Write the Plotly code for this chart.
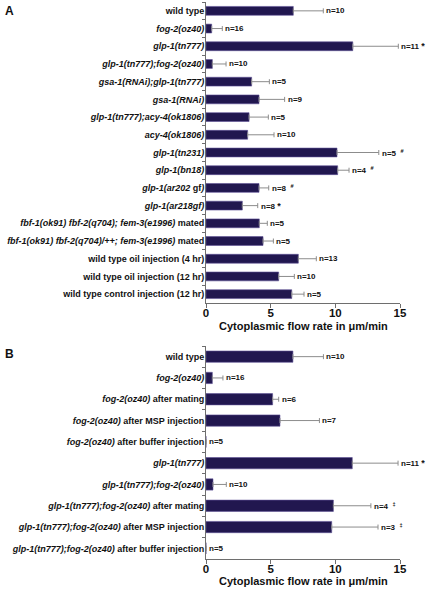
import plotly.graph_objects as go

# ---------------- data ----------------
a_labels = [
    "wild type",
    "<i>fog-2(oz40)</i>",
    "<i>glp-1(tn777)</i>",
    "<i>glp-1(tn777);fog-2(oz40)</i>",
    "<i>gsa-1(RNAi);glp-1(tn777)</i>",
    "<i>gsa-1(RNAi)</i>",
    "<i>glp-1(tn777);acy-4(ok1806)</i>",
    "<i>acy-4(ok1806)</i>",
    "<i>glp-1(tn231)</i>",
    "<i>glp-1(bn18)</i>",
    "<i>glp-1(ar202 </i>gf<i>)</i>",
    "<i>glp-1(ar218gf)</i>",
    "<i>fbf-1(ok91) fbf-2(q704); fem-3(e1996)</i> mated",
    "<i>fbf-1(ok91) fbf-2(q704)/++; fem-3(e1996)</i> mated",
    "wild type oil injection (4 hr)",
    "wild type oil injection (12 hr)",
    "wild type control injection (12 hr)",
]
a_values = [6.75, 0.44, 11.35, 0.49, 3.53, 4.10, 3.33, 3.22, 10.13, 10.18,
            4.10, 2.81, 4.12, 4.41, 7.14, 5.62, 6.63]
a_errors = [2.32, 0.82, 3.52, 1.06, 1.37, 1.98, 1.49, 2.04, 3.23, 0.88,
            0.75, 1.19, 0.62, 0.80, 1.39, 1.21, 0.95]
a_n = [10, 16, 11, 10, 5, 9, 5, 10, 5, 4, 8, 8, 5, 5, 13, 10, 5]
a_marks = ["", "", "*", "", "", "", "", "", "#", "#", "#", "*", "", "", "", "", ""]

b_labels = [
    "wild type",
    "<i>fog-2(oz40)</i>",
    "<i>fog-2(oz40)</i> after mating",
    "<i>fog-2(oz40)</i> after MSP injection",
    "<i>fog-2(oz40)</i> after buffer injection",
    "<i>glp-1(tn777)</i>",
    "<i>glp-1(tn777);fog-2(oz40)</i>",
    "<i>glp-1(tn777);fog-2(oz40)</i> after mating",
    "<i>glp-1(tn777);fog-2(oz40)</i> after MSP injection",
    "<i>glp-1(tn777);fog-2(oz40)</i> after buffer injection",
]
b_values = [6.72, 0.49, 5.15, 5.72, 0.0, 11.31, 0.54, 9.85, 9.72, 0.0]
b_errors = [2.36, 0.82, 0.47, 3.05, 0.0, 3.54, 1.03, 2.90, 3.58, 0.0]
b_n = [10, 16, 6, 7, 5, 11, 10, 4, 3, 5]
b_marks = ["", "", "", "", "", "*", "", "‡", "‡", ""]

x_ticks = [0, 5, 10, 15]
x_title = "Cytoplasmic flow rate in μm/min"

# ---------------- style ----------------
FONT = "Liberation Sans, Arial, sans-serif"
BAR = "#21174f"
BAR_LINE = "#5e5196"
ERR = "#8c8c8c"
AXIS = "#6e6e6e"

W, H = 426, 590
ML, MR, MT, MB = 206, 26, 2, 31
plot_h = H - MT - MB
bottom_px = H - MB


def py(p):
    return (bottom_px - p) / plot_h


def px(p):
    return (p - ML) / (W - ML - MR)


def mark_text(n, m):
    if not m:
        return f"n={n}"
    if m == "*":
        return f"n={n} <span style='font-size:9px'>*</span>"
    return f"n={n}  <sup>{m}</sup>"


fig = go.Figure()

panels = [
    (a_labels, a_values, a_errors, a_n, a_marks, "x", "y", 0.5),
    (b_labels, b_values, b_errors, b_n, b_marks, "x2", "y2", 0.53),
]

annotations = []
for labels, vals, errs, ns, marks, xa, ya, bw in panels:
    fig.add_trace(go.Bar(
        x=vals, y=labels, orientation="h", width=bw,
        marker=dict(color=BAR, line=dict(color=BAR_LINE, width=0.6)),
        error_x=dict(type="data", symmetric=False, array=errs,
                     arrayminus=[0] * len(errs), color=ERR,
                     thickness=1, width=2.5),
        xaxis=xa, yaxis=ya, showlegend=False, hoverinfo="skip",
    ))
    for i, (lab, v, e, n, m) in enumerate(zip(labels, vals, errs, ns, marks)):
        annotations.append(dict(
            x=v + e, y=i, xref=xa, yref=ya, text=mark_text(n, m), showarrow=False,
            xanchor="left", yanchor="middle", xshift=1,
            font=dict(family=FONT, size=8, color="#111", weight="bold"),
        ))

a_dom = [py(303), 1.0]
b_dom = [0.0, py(346)]

common_x = dict(range=[0, 15], tickvals=x_ticks, ticks="outside", ticklen=4,
                tickcolor=AXIS, showline=True, linecolor=AXIS, linewidth=1,
                showgrid=False, zeroline=False, automargin=False,
                ticklabelstandoff=-5,
                tickfont=dict(family=FONT, size=11.5, color="#111", weight="bold"))
common_y = dict(type="category", ticks="outside", tickson="boundaries",
                ticklen=3, tickcolor=AXIS, showline=True, linecolor=AXIS,
                linewidth=1, showgrid=False, zeroline=False, automargin=False,
                ticklabelstandoff=-1,
                tickfont=dict(family=FONT, size=9, color="#111", weight="bold"))

fig.update_layout(
    width=W, height=H,
    margin=dict(l=ML, r=MR, t=MT, b=MB, autoexpand=False),
    paper_bgcolor="white", plot_bgcolor="white",
    xaxis=dict(domain=[0, 1], anchor="y", **common_x),
    yaxis=dict(domain=a_dom, anchor="x", range=[len(a_labels) - 0.5, -0.5], **common_y),
    xaxis2=dict(domain=[0, 1], anchor="y2", **common_x),
    yaxis2=dict(domain=b_dom, anchor="x2", range=[len(b_labels) - 0.5, -0.5], **common_y),
    font=dict(family=FONT, color="#111"),
)

# axis titles and panel letters
annotations.append(dict(x=px(303), y=py(325.5), xref="paper", yref="paper",
                        text=x_title, showarrow=False, xanchor="center", yanchor="middle",
                        font=dict(family=FONT, size=11, color="#111", weight="bold")))
annotations.append(dict(x=px(303), y=py(581), xref="paper", yref="paper",
                        text=x_title, showarrow=False, xanchor="center", yanchor="middle",
                        font=dict(family=FONT, size=11, color="#111", weight="bold")))
annotations.append(dict(x=px(3), y=py(11), xref="paper", yref="paper",
                        text="A", showarrow=False, xanchor="left", yanchor="middle",
                        font=dict(family=FONT, size=12, color="#111", weight="bold")))
annotations.append(dict(x=px(3), y=py(353.5), xref="paper", yref="paper",
                        text="B", showarrow=False, xanchor="left", yanchor="middle",
                        font=dict(family=FONT, size=12, color="#111", weight="bold")))

fig.update_layout(annotations=annotations)
fig.write_html("out.html", config={"displayModeBar": False},
               post_script="document.body.style.margin='0px';")
